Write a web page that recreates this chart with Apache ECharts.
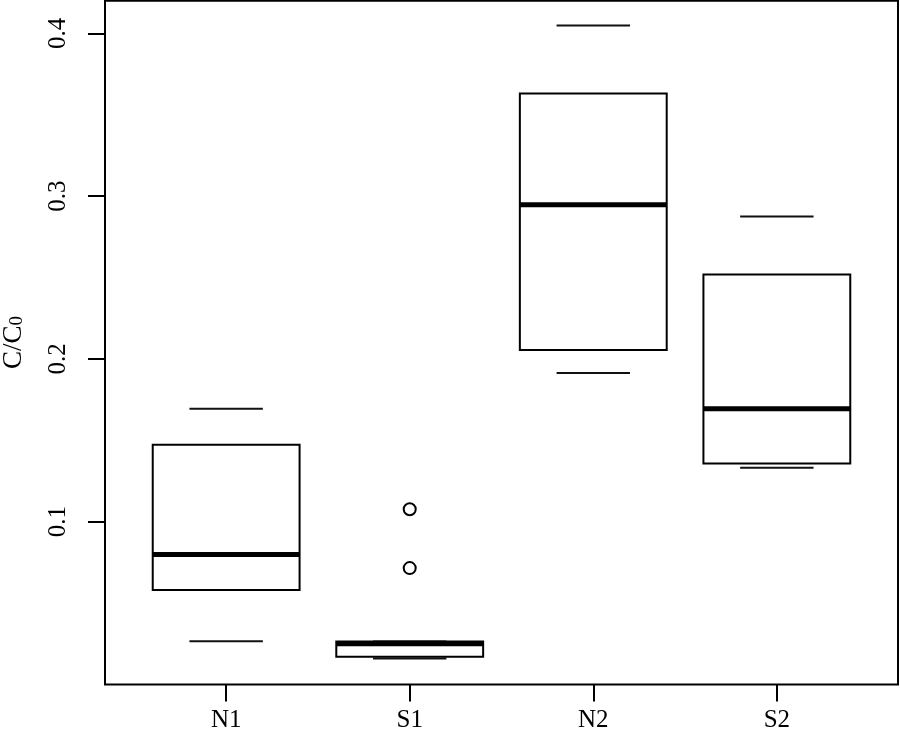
<!DOCTYPE html>
<html>
<head>
<meta charset="utf-8">
<style>
html,body{margin:0;padding:0;background:#fff;}
#chart{width:900px;height:732px;}
</style>
<script src="https://cdn.jsdelivr.net/npm/echarts@6/dist/echarts.min.js"></script>
</head>
<body>
<div id="chart"></div>
<script>
// ---- data ----
const categories   = ['N1', 'S1', 'N2', 'S2'];
const lowerWhisker = [0.0265, 0.0159, 0.1913, 0.1332];
const lowerQuartile= [0.0580, 0.0171, 0.2054, 0.1357];
const medians      = [0.0799, 0.0250, 0.2946, 0.1694];
const upperQuartile= [0.1472, 0.0264, 0.3630, 0.2518];
const upperWhisker = [0.1694, 0.0264, 0.4048, 0.2875];
const outlierGroup = ['S1', 'S1'];
const outlierValue = [0.0715, 0.1076];
const yTicks = [0.1, 0.2, 0.3, 0.4];

const FONT = "'Liberation Serif', 'Times New Roman', serif";

const boxData = categories.map((c, i) => [i + 1, lowerWhisker[i], lowerQuartile[i], medians[i], upperQuartile[i], upperWhisker[i]]);
const outlierData = outlierValue.map((v, i) => [categories.indexOf(outlierGroup[i]) + 1, v]);

const chart = echarts.init(document.getElementById('chart'), null, {renderer: 'canvas'});
chart.setOption({
  animation: false,
  backgroundColor: '#fff',
  grid: {
    left: 105, right: 2, top: 0.7, bottom: 47.5,
    containLabel: false, outerBoundsMode: 'none',
    show: true, borderColor: '#000', borderWidth: 2, backgroundColor: 'transparent'
  },
  xAxis: {
    type: 'value', min: 0.34, max: 4.66,
    splitLine: {show: false},
    axisLine: {show: false},
    axisTick: {show: true, length: 17, lineStyle: {color: '#000', width: 2}, customValues: [1, 2, 3, 4]},
    axisLabel: {
      customValues: [1, 2, 3, 4],
      formatter: v => categories[Math.round(v) - 1] || '',
      fontFamily: FONT, fontSize: 25, color: '#000', margin: 23
    }
  },
  yAxis: {
    type: 'value', min: 0, max: 0.42,
    splitLine: {show: false},
    axisLine: {show: false},
    axisTick: {show: true, length: 17, lineStyle: {color: '#000', width: 2}, customValues: yTicks},
    axisLabel: {
      customValues: yTicks,
      rotate: 90,
      formatter: v => v.toFixed(1),
      fontFamily: FONT, fontSize: 25, color: '#000', margin: 34
    },
    name: 'C/C{sub|0}',
    nameLocation: 'middle',
    nameRotate: 90,
    nameGap: 78,
    nameTextStyle: {
      fontFamily: FONT, fontSize: 27, color: '#000',
      rich: {sub: {fontFamily: FONT, fontSize: 19, color: '#000', verticalAlign: 'bottom', lineHeight: 20}}
    }
  },
  series: [
    {
      type: 'custom',
      data: boxData,
      encode: {x: 0, y: [1, 2, 3, 4, 5]},
      renderItem: function (params, api) {
        const x = api.value(0);
        const halfW = api.size([0.8, 0])[0] / 2;
        const capHalf = halfW / 2;
        const cx = api.coord([x, 0])[0];
        const yLo = api.coord([x, api.value(1)])[1];
        const yQ1 = api.coord([x, api.value(2)])[1];
        const yMd = api.coord([x, api.value(3)])[1];
        const yQ3 = api.coord([x, api.value(4)])[1];
        const yHi = api.coord([x, api.value(5)])[1];
        return {
          type: 'group',
          children: [
            {type: 'line', shape: {x1: cx - capHalf, y1: yLo, x2: cx + capHalf, y2: yLo}, style: {stroke: '#111', lineWidth: 2}},
            {type: 'line', shape: {x1: cx - capHalf, y1: yHi, x2: cx + capHalf, y2: yHi}, style: {stroke: '#111', lineWidth: 2}},
            {type: 'rect', shape: {x: cx - halfW, y: yQ3, width: 2 * halfW, height: yQ1 - yQ3}, style: {fill: '#fff', stroke: '#000', lineWidth: 2}},
            {type: 'line', shape: {x1: cx - halfW, y1: yMd, x2: cx + halfW, y2: yMd}, style: {stroke: '#000', lineWidth: 5}}
          ]
        };
      }
    },
    {
      type: 'scatter',
      data: outlierData,
      symbol: 'circle',
      symbolSize: 12,
      itemStyle: {color: '#fff', borderColor: '#000', borderWidth: 2, opacity: 1}
    }
  ]
});
</script>
</body>
</html>
